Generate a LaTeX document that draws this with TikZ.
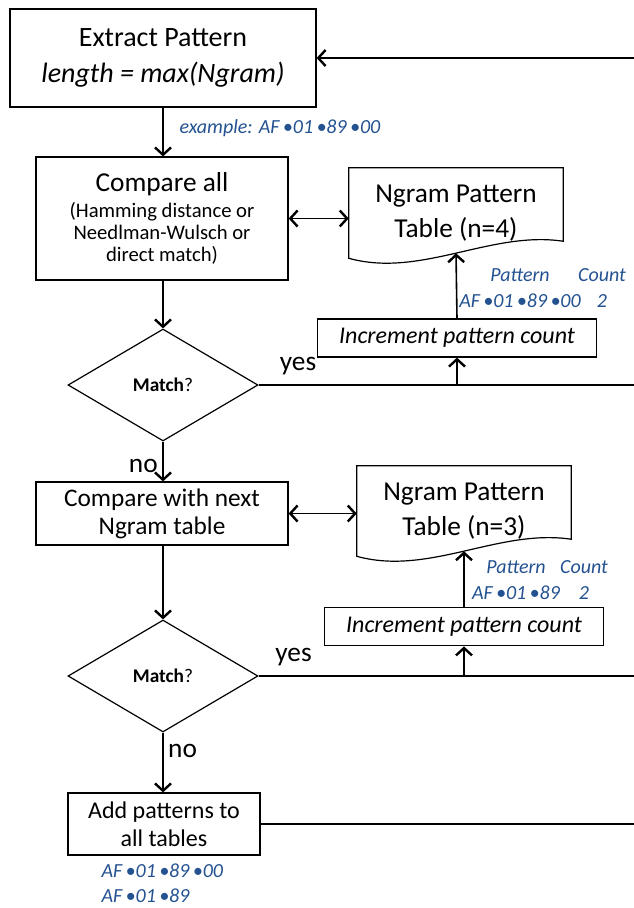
\documentclass[tikz,border=0pt]{standalone}
\usepackage{fontspec}
\setmainfont{Carlito}
\usepackage{tikz}
\usetikzlibrary{shapes.geometric,arrows.meta,calc}
\definecolor{patblue}{RGB}{36,82,145}
\newcommand{\sep}{\,•}
\newcommand{\docpath}[1]{\draw[line width=0.9pt] (#1.north west) -- (#1.north east) -- ($(#1.south east)+(0,-17)$) .. controls ($(#1.south west)!0.664!(#1.south east)+(0,-28)$) and ($(#1.south west)!0.336!(#1.south east)+(0,20)$) .. (#1.south west) -- cycle;}

\begin{document}
\begin{tikzpicture}[x=0.75pt, y=-0.75pt,
  box/.style={draw, line width=0.9pt, align=center, inner sep=2pt},
  tablebox/.style={align=center, minimum width=160.5pt, minimum height=67.5pt, font=\fontsize{20.5}{26}\selectfont},
  decision/.style={draw, diamond, line width=0.9pt, inner sep=0pt, minimum width=142.5pt, minimum height=84pt, font=\fontsize{14.5}{16}\selectfont},
  lbl/.style={text=patblue, align=center, inner sep=1pt, font=\itshape\fontsize{15}{19}\selectfont},
  tip/.style={Straight Barb[length=6pt, width=12pt, line width=1.8pt]},
  line/.style={line width=1.2pt},
  arr/.style={line, -{Straight Barb[length=5.5pt, width=12pt, line width=1.8pt]}},
  twoway/.style={line, {Straight Barb[length=5.5pt, width=12pt, line width=1.8pt]}-{Straight Barb[length=5.5pt, width=12pt, line width=1.8pt]}}]
\useasboundingbox (0,0) rectangle (634,908);
\coordinate (edge) at (634,0);

\node[box, minimum width=229.5pt, minimum height=73.5pt, font=\fontsize{21}{26.5}\selectfont] (extract) at (163,58) {Extract Pattern\\\textit{length = max(Ngram)}};
\node[box, minimum width=189pt, minimum height=92.25pt, font=\fontsize{15.5}{16.5}\selectfont] (compare) at (162,218.5) {{\fontsize{20.5}{24}\selectfont Compare all}\\[3pt](Hamming distance or\\Needlman-Wulsch or\\direct match)};
\node[decision] (match1) at (163,385) {\textbf{Match}?};
\node[box, minimum width=189pt, minimum height=47.25pt, font=\fontsize{19}{21}\selectfont] (next) at (162,513.5) {Compare with next\\Ngram table};
\node[decision] (match2) at (163,676) {\textbf{Match}?};
\node[box, minimum width=144pt, minimum height=46.5pt, font=\fontsize{18}{21}\selectfont] (add) at (164,824) {Add patterns to\\all tables};

\node[tablebox] (tab4) at (456,213) {Ngram Pattern\\Table (n=4)};
\docpath{tab4}
\node[tablebox] (tab3) at (464,511) {Ngram Pattern\\Table (n=3)};
\docpath{tab3}
\node[box, minimum width=209pt, minimum height=28.5pt, font=\itshape\fontsize{18}{20}\selectfont] (inc1) at (457,338) {Increment pattern count};
\node[box, minimum width=209pt, minimum height=29pt, font=\itshape\fontsize{18}{20}\selectfont] (inc2) at (464,626.5) {Increment pattern count};

\node[lbl, anchor=west] (ex) at (178,128) {example: AF\sep 01\sep 89\sep 00};
\node[lbl] (pat4) at (520,288) {Pattern\\AF\sep 01\sep 89\sep 00};
\node[lbl] (cnt4) at (602,288) {Count\\2};
\node[lbl] (pat3) at (516,580) {Pattern\\AF\sep 01\sep 89};
\node[lbl] (cnt3) at (584,580) {Count\\2};
\node[lbl, anchor=north west, align=left] (added) at (100,862) {AF\sep 01\sep 89\sep 00\\AF\sep 01\sep 89};

\draw[arr] (extract.east -| edge) -- (extract.east);
\draw[arr] (extract.south) -- (extract.south |- compare.north);
\draw[twoway] (compare.east) -- (compare.east -| tab4.west);
\draw[arr] (compare.south -| match1.north) -- (match1.north);
\draw[line] (match1.east) -- node[pos=0.105, above, yshift=4pt, font=\fontsize{20.5}{24}\selectfont] {yes} (match1.east -| edge);
\draw[arr] (match1.east -| inc1.south) -- (inc1.south);
\draw[arr] (inc1.north) -- ($(tab4.south)+(0,-5)$);
\draw[arr] (match1.south) -- node[pos=0.6, left, font=\fontsize{20.5}{24}\selectfont] {no} (match1.south |- next.north);
\draw[twoway] (next.east) -- (next.east -| tab3.west);
\draw[arr] (next.south -| match2.north) -- (match2.north);
\draw[line] (match2.east) -- node[pos=0.093, above, yshift=4pt, font=\fontsize{20.5}{24}\selectfont] {yes} (match2.east -| edge);
\draw[arr] (match2.east -| inc2.south) -- (inc2.south);
\draw[arr] (inc2.north) -- ($(tab3.south)+(0,-5)$);
\draw[arr] (match2.south) -- node[pos=0.3, right, font=\fontsize{20.5}{24}\selectfont] {no} (match2.south |- add.north);
\draw[line] (add.east) -- (add.east -| edge);
\end{tikzpicture}
\end{document}
